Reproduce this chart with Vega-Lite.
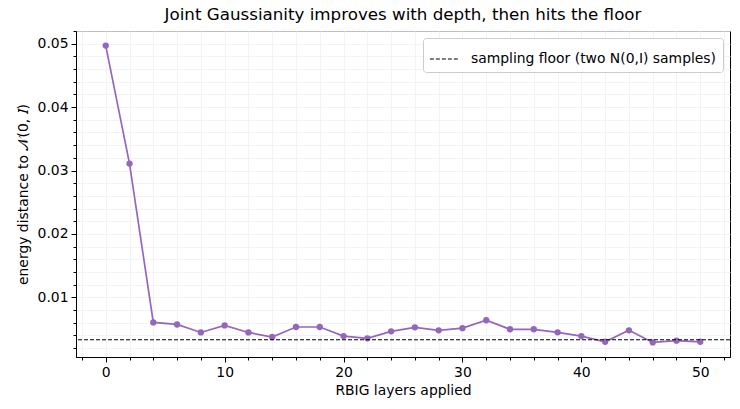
{
  "$schema": "https://vega.github.io/schema/vega-lite/v6.json",
  "width": 654,
  "height": 326,
  "autosize": "none",
  "padding": {"left": 76, "top": 31, "right": 10, "bottom": 52},
  "background": "white",
  "config": {
    "font": "DejaVu Sans",
    "view": {"stroke": "black", "strokeWidth": 1},
    "axis": {"labelFont": "DejaVu Sans", "titleFont": "DejaVu Sans", "labelFontSize": 13.9, "titleFontSize": 13.9, "titleFontWeight": "normal", "labelColor": "black", "titleColor": "black", "domainColor": "black", "tickColor": "black"}
  },
  "title": {"text": "Joint Gaussianity improves with depth, then hits the floor", "fontSize": 16.7, "fontWeight": "normal", "font": "DejaVu Sans", "anchor": "middle", "offset": 7, "color": "black"},
  "datasets": {
    "pts": [
      {"layers": 0, "dist": 0.0497},
      {"layers": 2, "dist": 0.0311},
      {"layers": 4, "dist": 0.00605},
      {"layers": 6, "dist": 0.00573},
      {"layers": 8, "dist": 0.00447},
      {"layers": 10, "dist": 0.00558},
      {"layers": 12, "dist": 0.00447},
      {"layers": 14, "dist": 0.00375},
      {"layers": 16, "dist": 0.00533},
      {"layers": 18, "dist": 0.00533},
      {"layers": 20, "dist": 0.0039},
      {"layers": 22, "dist": 0.00354},
      {"layers": 24, "dist": 0.00465},
      {"layers": 26, "dist": 0.00528},
      {"layers": 28, "dist": 0.00481},
      {"layers": 30, "dist": 0.00515},
      {"layers": 32, "dist": 0.0064},
      {"layers": 34, "dist": 0.00497},
      {"layers": 36, "dist": 0.00497},
      {"layers": 38, "dist": 0.00449},
      {"layers": 40, "dist": 0.0039},
      {"layers": 42, "dist": 0.0030},
      {"layers": 44, "dist": 0.00481},
      {"layers": 46, "dist": 0.0029},
      {"layers": 48, "dist": 0.00317},
      {"layers": 50, "dist": 0.0030}
    ],
    "floor": [{"floor": 0.00333, "label": "sampling floor (two N(0,I) samples)"}]
  },
  "resolve": {"axis": {"x": "independent", "y": "independent"}},
  "layer": [
    {
      "data": {"name": "pts"},
      "mark": {"type": "line", "color": "#9467bd", "strokeWidth": 1.7},
      "encoding": {
        "x": {"field": "layers", "type": "quantitative", "scale": {"domain": [-2.5, 52.5], "nice": false, "zero": false},
          "axis": {"orient": "bottom", "values": [-2,0,2,4,6,8,10,12,14,16,18,20,22,24,26,28,30,32,34,36,38,40,42,44,46,48,50,52], "labels": false, "tickSize": 3, "domain": false, "title": null, "gridColor": "#f0f0f0", "gridWidth": 0.8}},
        "y": {"field": "dist", "type": "quantitative", "scale": {"domain": [0.0006, 0.052], "nice": false, "zero": false},
          "axis": {"orient": "left", "values": [0.002,0.004,0.006,0.008,0.01,0.012,0.014,0.016,0.018,0.02,0.022,0.024,0.026,0.028,0.03,0.032,0.034,0.036,0.038,0.04,0.042,0.044,0.046,0.048,0.05,0.052], "labels": false, "tickSize": 3, "domain": false, "title": null, "gridColor": "#f0f0f0", "gridWidth": 0.8}}
      }
    },
    {
      "data": {"name": "pts"},
      "mark": {"type": "circle", "color": "#9467bd", "opacity": 1, "size": 40},
      "encoding": {
        "x": {"field": "layers", "type": "quantitative",
          "axis": {"orient": "bottom", "values": [0,10,20,30,40,50], "tickSize": 5, "labelPadding": 3, "title": "RBIG layers applied", "titlePadding": 5, "gridColor": "#e3e3e3", "gridWidth": 0.8}},
        "y": {"field": "dist", "type": "quantitative",
          "axis": {"orient": "left", "values": [0.01,0.02,0.03,0.04,0.05], "format": ".2f", "tickSize": 5, "labelPadding": 3, "title": "energy distance to 𝒩(0, 𝐼)", "titlePadding": 7, "gridColor": "#e3e3e3", "gridWidth": 0.8}}
      }
    },
    {
      "data": {"name": "floor"},
      "mark": {"type": "rule", "strokeDash": [4, 2], "strokeWidth": 1.1},
      "encoding": {
        "y": {"field": "floor", "type": "quantitative", "axis": null},
        "color": {"field": "label", "type": "nominal", "scale": {"range": ["black"]},
          "legend": {"title": null, "orient": "top-right", "offset": 7, "symbolType": "stroke", "symbolDash": [4, 2], "symbolSize": 800, "symbolStrokeWidth": 1.2, "labelFontSize": 13.9, "labelFont": "DejaVu Sans", "labelColor": "black", "labelLimit": 0, "labelOffset": 12, "fillColor": "white", "strokeColor": "#cccccc", "cornerRadius": 3, "padding": 6}}
      }
    }
  ]
}
